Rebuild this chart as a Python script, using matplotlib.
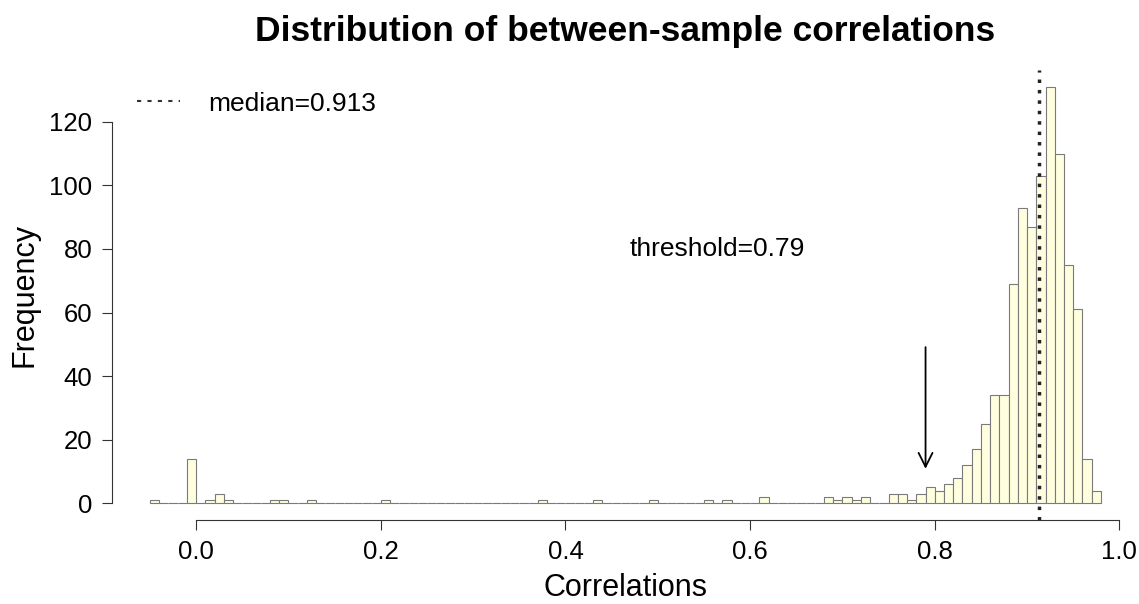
import matplotlib
matplotlib.use('Agg')
import matplotlib.pyplot as plt
from matplotlib.lines import Line2D
import numpy as np

plt.rcParams['font.family'] = ['Liberation Sans', 'DejaVu Sans']

# histogram: bin left edges (width 0.01) with non-zero counts
bin_left = [-0.05, -0.01, 0.01, 0.02, 0.03, 0.08, 0.09, 0.12, 0.20, 0.37,
            0.43, 0.49, 0.55, 0.57, 0.61, 0.68, 0.69, 0.70, 0.71, 0.72,
            0.75, 0.76, 0.77, 0.78, 0.79, 0.80, 0.81, 0.82, 0.83, 0.84,
            0.85, 0.86, 0.87, 0.88, 0.89, 0.90, 0.91, 0.92, 0.93, 0.94,
            0.95, 0.96, 0.97]
bin_count = [1, 14, 1, 3, 1, 1, 1, 1, 1, 1,
             1, 1, 1, 1, 2, 2, 1, 2, 1, 2,
             3, 3, 1, 3, 5, 4, 6, 8, 12, 17,
             25, 34, 34, 69, 93, 87, 103, 131, 110, 75,
             61, 14, 4]
bin_width = 0.01
first_edge, last_edge = -0.05, 0.98

median_val = 0.913
threshold = 0.79

# full set of bins, empty ones get zero height (drawn as baseline like R)
edges = np.round(np.arange(first_edge, last_edge, bin_width), 2)
counts = np.zeros(len(edges))
for l, c in zip(bin_left, bin_count):
    counts[np.argmin(np.abs(edges - l))] = c

fig = plt.figure(figsize=(11.39, 6.04), dpi=100)
ax = fig.add_axes([0.0983, 0.139, 0.9017, 0.745])

ax.bar(edges, counts, width=bin_width, align='edge', color='#FFFFE0',
       edgecolor='#7a7a7a', linewidth=0.8)

ax.axvline(median_val, color='#222222', linestyle=(0, (1, 2)), lw=2.5)
ax.annotate('', xy=(threshold, 10), xytext=(threshold, 50),
            arrowprops=dict(arrowstyle='->', color='black', lw=1.3,
                            mutation_scale=25))
ax.text(0.565, 80, f'threshold={threshold}', ha='center', va='center',
        fontsize=19)

# R-like extents (4% padding), detached axes
span = last_edge - first_edge
ax.set_xlim(first_edge - 0.04 * span, last_edge + 0.04 * span)
ymax = max(bin_count)
ax.set_ylim(-0.04 * ymax, ymax * 1.04)

for s in ['top', 'right']:
    ax.spines[s].set_visible(False)
ax.spines['left'].set_bounds(0, 120)
ax.spines['bottom'].set_bounds(0, 1.0)
ax.spines['left'].set_color('#333333')
ax.spines['bottom'].set_color('#333333')
ax.set_xticks(np.arange(0, 1.01, 0.2))
ax.set_xticklabels([f'{v:.1f}' for v in np.arange(0, 1.01, 0.2)])
ax.set_yticks(np.arange(0, 121, 20))
ax.tick_params(labelsize=18.5, length=7.2, color='#333333', pad=7)

ax.set_xlabel('Correlations', fontsize=22, labelpad=7)
ax.set_ylabel('Frequency', fontsize=22, labelpad=7)
fig.suptitle('Distribution of between-sample correlations', fontsize=25.5,
             fontweight='bold', x=0.549, y=0.975)

handle = Line2D([], [], color='#333333', linestyle=(0, (2, 3)), lw=1.5)
ax.legend([handle], [f'median={median_val}'], loc='upper left',
          bbox_to_anchor=(0.0243, 0.952), frameon=False, fontsize=19,
          borderaxespad=0, borderpad=0,
          handlelength=1.65, handletextpad=1.05)

fig.savefig('out.png', dpi=100)
